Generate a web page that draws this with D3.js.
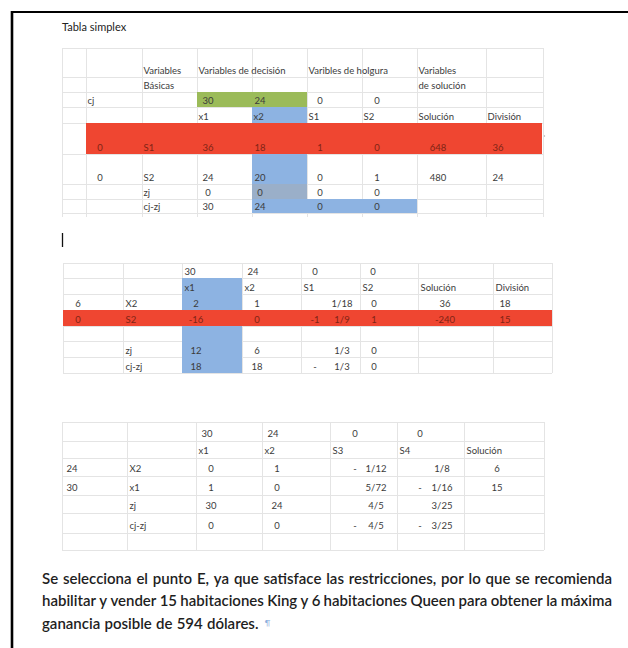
<!DOCTYPE html>
<html>
<head>
<meta charset="utf-8">
<script src="https://cdn.jsdelivr.net/npm/d3@7/dist/d3.min.js"></script>
<style>
  html, body { margin: 0; padding: 0; background: #fff; }
  svg { display: block; }
</style>
</head>
<body>
<svg id="c" width="628" height="648"></svg>
<script>
// ---------------- DATA ----------------
const title = "Tabla simplex";

// Table 1 (initial tableau)
const t1Cols = ["pad", "cb", "vb", "x1", "x2", "S1", "S2", "sol", "div"];
const t1Head1 = ["", "", "Variables", "Variables de decisión", "", "Varibles de holgura", "", "Variables", ""];
const t1Head2 = ["", "", "Básicas", "", "", "", "", "de solución", ""];
const t1Cj    = ["", "cj", "", "30", "24", "0", "0", "", ""];
const t1Vars  = ["", "", "", "x1", "x2", "S1", "S2", "Solución", "División"];
const t1RowS1 = ["", "0", "S1", "36", "18", "1", "0", "648", "36"];
const t1RowS2 = ["", "0", "S2", "24", "20", "0", "1", "480", "24"];
const t1Zj    = ["", "", "zj", "0", "0", "0", "0", "", ""];
const t1CjZj  = ["", "", "cj-zj", "30", "24", "0", "0", "", ""];

// Table 2 (second tableau)
const t2Cols = ["cb", "vb", "x1", "x2", "S1", "S2", "sol", "div"];
const t2Cj    = ["", "", "30", "24", "0", "0", "", ""];
const t2Vars  = ["", "", "x1", "x2", "S1", "S2", "Solución", "División"];
const t2RowX2 = ["6", "X2", "2", "1", "1/18", "0", "36", "18"];
const t2RowS2 = ["0", "S2", "-16", "0", "-1 1/9", "1", "-240", "15"];
const t2Blank = ["", "", "", "", "", "", "", ""];
const t2Zj    = ["", "zj", "12", "6", "1/3", "0", "", ""];
const t2CjZj  = ["", "cj-zj", "18", "18", "- 1/3", "0", "", ""];

// Table 3 (final tableau)
const t3Cols = ["cb", "vb", "x1", "x2", "S3", "S4", "sol"];
const t3Cj    = ["", "", "30", "24", "0", "0", ""];
const t3Vars  = ["", "", "x1", "x2", "S3", "S4", "Solución"];
const t3RowX2 = ["24", "X2", "0", "1", "- 1/12", "1/8", "6"];
const t3RowX1 = ["30", "x1", "1", "0", "5/72", "- 1/16", "15"];
const t3Zj    = ["", "zj", "30", "24", "4/5", "3/25", ""];
const t3CjZj  = ["", "cj-zj", "0", "0", "- 4/5", "- 3/25", ""];
const t3Blank = ["", "", "", "", "", "", ""];

const paragraph = [
  "Se selecciona el punto E, ya que satisface las restricciones, por lo que se recomienda",
  "habilitar y vender 15 habitaciones King y 6 habitaciones Queen para obtener la máxima",
  "ganancia posible de 594 dólares."
];

// ---------------- DRAWING ----------------
const svg = d3.select("#c");
const FONT = "Lato, 'Open Sans', sans-serif";
const TXT = "#3b3b3b";
const RED_TXT = "#7e2415";
const GRID = "#e4e4e4";
const RED = "#ef4631";
const BLUE = "#8db3e2";
const GREEN = "#9bbb59";

// page border
svg.append("line").attr("x1", 11).attr("x2", 628).attr("y1", 12).attr("y2", 12)
  .attr("stroke", "#000").attr("stroke-width", 2.2);
svg.append("line").attr("x1", 12).attr("x2", 12).attr("y1", 11).attr("y2", 648)
  .attr("stroke", "#000").attr("stroke-width", 2.6);

svg.append("text").attr("x", 62).attr("y", 31).text(title)
  .attr("font-family", FONT).attr("font-size", 11).attr("fill", "#222");

function isNum(s) { return /^-?[\d\/ \-]+$/.test(s) && /\d/.test(s); }

function drawTable(cfg) {
  const g = svg.append("g");
  const cols = cfg.cols;
  const nR = cfg.rows.length;
  const xL = d3.scaleOrdinal().domain(cols).range(cfg.colEdges.slice(0, -1));
  const xR = d3.scaleOrdinal().domain(cols).range(cfg.colEdges.slice(1));
  const rowIdx = d3.range(nR);
  const yT = d3.scaleOrdinal().domain(rowIdx).range(cfg.rowEdges.slice(0, -1));
  const yB = d3.scaleOrdinal().domain(rowIdx).range(cfg.rowEdges.slice(1));
  const x0 = cfg.colEdges[0], x1 = cfg.colEdges[cfg.colEdges.length - 1];
  const yTop = cfg.rowEdges[0], yBot = cfg.rowEdges[cfg.rowEdges.length - 1] + (cfg.extraBottom || 0);

  // grid
  g.selectAll("line.h").data(cfg.rowEdges).join("line")
    .attr("x1", x0).attr("x2", x1).attr("y1", d => d + 0.5).attr("y2", d => d + 0.5)
    .attr("stroke", GRID).attr("stroke-width", 1);
  g.selectAll("line.v").data(cfg.colEdges).join("line")
    .attr("x1", d => d + 0.5).attr("x2", d => d + 0.5).attr("y1", yTop).attr("y2", yBot)
    .attr("stroke", GRID).attr("stroke-width", 1);

  // fills
  cfg.fills.forEach(f => {
    const xa = f.xStart != null ? f.xStart : xL(f.c0);
    const xb = f.xEnd != null ? f.xEnd : xR(f.c1);
    g.append("rect").attr("x", xa).attr("y", yT(f.r0))
      .attr("width", xb - xa).attr("height", yB(f.r1) - yT(f.r0))
      .attr("fill", f.color);
  });

  // text
  cfg.rows.forEach((row, ri) => {
    const base = yB(ri) - cfg.baseOff;
    const isRed = cfg.redRows.includes(ri);
    const centers = (cfg.rowCenters && cfg.rowCenters[ri]) || cfg.centers;
    row.forEach((val, ci) => {
      if (!val) return;
      const col = cols[ci];
      const fill = isRed ? RED_TXT : TXT;
      const mk = (x, txt, anchor) => g.append("text").attr("x", x).attr("y", base)
        .attr("text-anchor", anchor).text(txt)
        .attr("font-family", FONT).attr("font-size", cfg.fs).attr("fill", fill);
      const fracCol = cfg.frac && cfg.frac[col];
      if (isNum(val) && fracCol) {
        const parts = val.split(" ");
        if (parts.length === 2) {
          mk(fracCol[0], parts[0], "middle");
          mk(fracCol[1], parts[1], "middle");
        } else if (parts[0].includes("/")) {
          mk(fracCol[1], parts[0], "middle");
        } else {
          mk(fracCol[0], parts[0], "middle");
        }
      } else if (isNum(val) && centers[col] != null) {
        mk(centers[col], val, "middle");
      } else {
        mk(xL(col) + cfg.pad, val, "start");
      }
    });
  });
  return g;
}

// Table 1
drawTable({
  cols: t1Cols,
  rows: [t1Head1, t1Head2, t1Cj, t1Vars, t1RowS1, t1RowS2, t1Zj, t1CjZj],
  colEdges: [62, 86, 142, 197, 252, 307, 362, 417, 486, 543],
  rowEdges: [48, 77, 92, 107, 123, 154, 184, 199, 213],
  extraBottom: 4,
  baseOff: 3.5,
  fs: 9.5,
  pad: 1.5,
  centers: { cb: 100, x1: 208, x2: 260, S1: 320, S2: 377, sol: 438, div: 498 },
  redRows: [4],
  fills: [
    { c0: "x1", c1: "x2", r0: 2, r1: 2, color: GREEN },
    { c0: "x2", c1: "x2", r0: 3, r1: 3, color: BLUE },
    { c0: "x2", c1: "x2", r0: 5, r1: 7, color: BLUE },
    { c0: "x2", c1: "x2", r0: 6, r1: 6, color: "#9aafc9" },
    { c0: "S1", c1: "S2", r0: 7, r1: 7, color: BLUE },
    { c0: "cb", c1: "div", r0: 4, r1: 4, xEnd: 542, color: RED }
  ]
});
svg.append("circle").attr("cx", 544.5).attr("cy", 136).attr("r", 0.7).attr("fill", "#aaa");

// cursor bar
svg.append("line").attr("x1", 62.5).attr("x2", 62.5).attr("y1", 233).attr("y2", 247)
  .attr("stroke", "#111").attr("stroke-width", 1.3);

// Table 2
drawTable({
  cols: t2Cols,
  rows: [t2Cj, t2Vars, t2RowX2, t2RowS2, t2Blank, t2Zj, t2CjZj],
  colEdges: [63, 123, 182, 242, 301, 360, 418, 493, 552],
  rowEdges: [263, 278, 294, 310, 326, 341, 357, 373],
  baseOff: 3.5,
  fs: 9.5,
  pad: 2.5,
  centers: { cb: 78, x1: 196, x2: 257, S2: 374, sol: 445, div: 505 },
  rowCenters: { 0: { x1: 190, x2: 253, S1: 313, S2: 373 } },
  frac: { S1: [315, 342] },
  redRows: [3],
  fills: [
    { c0: "x1", c1: "x1", r0: 1, r1: 6, color: BLUE },
    { c0: "cb", c1: "div", r0: 3, r1: 3, color: RED }
  ]
});

// Table 3
drawTable({
  cols: t3Cols,
  rows: [t3Cj, t3Vars, t3RowX2, t3RowX1, t3Zj, t3CjZj, t3Blank],
  colEdges: [62, 127, 196, 262, 330, 397, 464, 544],
  rowEdges: [422, 441, 458, 476, 495, 513, 533, 550],
  baseOff: 4.5,
  fs: 9.5,
  pad: 2.5,
  centers: { cb: 72, x1: 211, x2: 277, sol: 497 },
  rowCenters: { 0: { x1: 207, x2: 273, S3: 347, S4: 413 } },
  frac: { S3: [355, 376], S4: [420, 442] },
  redRows: [],
  fills: []
});

// paragraph (justified)
const pg = svg.append("g").attr("font-family", FONT).attr("font-size", 15)
  .attr("font-weight", 600).attr("fill", "#1e1e1e");
const PX0 = 42, PX1 = 612;
const lineY = [584, 606, 629];
paragraph.forEach((line, li) => {
  const words = line.split(" ");
  const ts = pg.selectAll(null).data(words).join("text").attr("y", lineY[li]).text(d => d);
  const widths = ts.nodes().map(n => n.getComputedTextLength());
  const total = d3.sum(widths);
  const last = li === paragraph.length - 1;
  const gap = last ? 4.2 : (PX1 - PX0 - total) / (words.length - 1);
  let x = PX0;
  ts.attr("x", (d, i) => { const v = x; x += widths[i] + gap; return v; });
  if (last) {
    pg.append("text").attr("x", x + 2).attr("y", lineY[li] - 3).text("¶")
      .attr("font-size", 8).attr("font-weight", 400).attr("fill", "#8fb0dd");
  }
});
</script>
</body>
</html>
